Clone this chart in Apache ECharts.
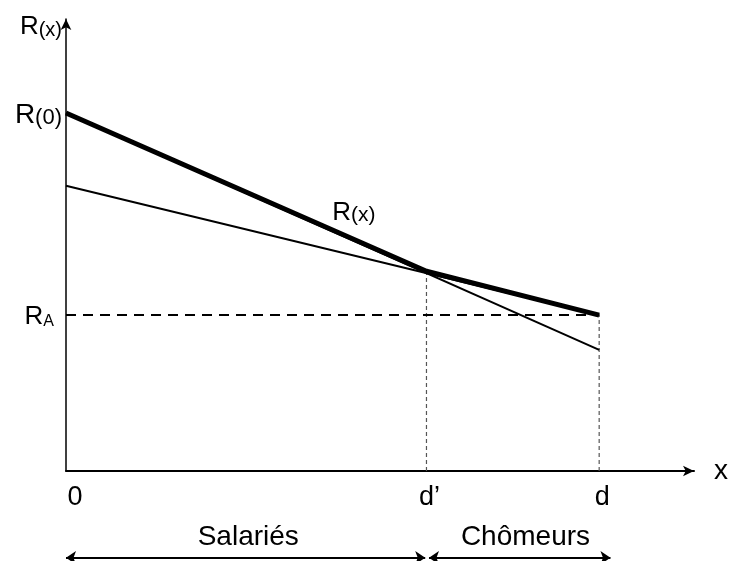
<!DOCTYPE html>
<html>
<head>
<meta charset="utf-8">
<script src="https://cdn.jsdelivr.net/npm/echarts@6/dist/echarts.min.js"></script>
<style>html,body{margin:0;padding:0;background:#fff}#c{width:731px;height:561px}</style>
</head>
<body>
<div id="c"></div>
<script>
// Key x positions (data units, axis 0..100)
const xZero = 0;
const xDPrime = 57.4;
const xD = 84.9;
// Values (y units, axis 0..100)
const thickR = [[xZero, 79.2], [xDPrime, 44.2], [xD, 34.5]];      // R(x) envelope
const steepLine = [[xZero, 79.2], [xD, 26.8]];                    // thin steep line
const shallowLine = [[xZero, 63.1], [xD, 34.5]];                  // thin shallow line
const RA = 34.5;
const R0 = 79.2;
const crossY = 44.2;
const xTickLabels = { 0: '0', 57.4: 'd’', 84.9: 'd' };
const groupLabels = ['Salariés', 'Chômeurs'];
const bracketY = -19.2;
const groupLabelY = -14.6;
const chomeursEnd = 86.7;

const chart = echarts.init(document.getElementById('c'));
const FONT = 'Liberation Sans';
chart.setOption({
  animation: false,
  backgroundColor: '#fff',
  textStyle: { fontFamily: FONT, color: '#000' },
  grid: { left: 66, right: 34, top: 19, bottom: 90 },
  xAxis: {
    type: 'value', min: 0, max: 100,
    splitLine: { show: false },
    axisTick: { show: false },
    axisLine: { lineStyle: { color: '#000', width: 2 }, symbol: ['none', 'arrow'], symbolSize: [8, 11] },
    axisLabel: {
      customValues: [xZero, xDPrime, xD],
      margin: 13,
      formatter: v => v === 0 ? '{z|0}' : '{t|' + xTickLabels[v] + '}',
      rich: {
        z: { fontSize: 27, fontFamily: FONT, color: '#000', padding: [0, 0, 0, 18] },
        t: { fontSize: 27, fontFamily: FONT, color: '#000', padding: [0, 0, 0, 6] }
      }
    },
    name: 'x', nameLocation: 'end', nameGap: 20,
    nameTextStyle: { fontSize: 28, fontFamily: FONT, color: '#000', verticalAlign: 'middle', padding: [0, 0, 4, 0] }
  },
  yAxis: {
    type: 'value', min: 0, max: 100,
    splitLine: { show: false },
    axisTick: { show: false },
    axisLine: { lineStyle: { color: '#000', width: 1.5 }, symbol: ['none', 'arrow'], symbolSize: [8, 11] },
    axisLabel: {
      customValues: [RA, R0],
      margin: 4,
      formatter: v => v === R0 ? '{R|R}{s|(0)}' : '{r|R}{a|A}{p|}',
      rich: {
        R: { fontSize: 28, fontFamily: FONT, color: '#000', verticalAlign: 'bottom', lineHeight: 32 },
        r: { fontSize: 26, fontFamily: FONT, color: '#000', verticalAlign: 'bottom', lineHeight: 30 },
        s: { fontSize: 22, fontFamily: FONT, color: '#000', verticalAlign: 'bottom', lineHeight: 29 },
        a: { fontSize: 16, fontFamily: FONT, color: '#000', verticalAlign: 'bottom', lineHeight: 24 },
        p: { width: 8 }
      }
    },
    name: '{r|R}{s|(x)}', nameLocation: 'end', nameGap: -6,
    nameTextStyle: {
      align: 'right', verticalAlign: 'middle', padding: [0, 4, 0, 0],
      rich: {
        r: { fontSize: 26, fontFamily: FONT, color: '#000', verticalAlign: 'bottom', lineHeight: 30 },
        s: { fontSize: 20, fontFamily: FONT, color: '#000', verticalAlign: 'bottom', lineHeight: 27 }
      }
    }
  },
  series: [
    { type: 'line', data: steepLine, symbol: 'none', lineStyle: { color: '#000', width: 2 }, z: 3 },
    { type: 'line', data: shallowLine, symbol: 'none', lineStyle: { color: '#000', width: 2 }, z: 3 },
    { type: 'line', data: thickR, symbol: 'none', lineStyle: { color: '#000', width: 5 }, z: 4 },
    { type: 'line', data: [[xZero, RA], [xD, RA]], symbol: 'none', lineStyle: { color: '#000', width: 2, type: [10, 7] }, z: 2 },
    { type: 'line', data: [[xDPrime, 0], [xDPrime, crossY]], symbol: 'none', lineStyle: { color: '#555', width: 1.2, type: [4, 3] }, z: 1 },
    { type: 'line', data: [[xD, 0], [xD, RA]], symbol: 'none', lineStyle: { color: '#555', width: 1.2, type: [4, 3] }, z: 1 },
    {
      type: 'scatter', symbolSize: 0, clip: false, silent: true,
      itemStyle: { opacity: 1 },
      data: [[42.4, 57.5]],
      label: {
        show: true, position: 'right', distance: 0, opacity: 1,
        formatter: '{r|R}{s|(x)}',
        rich: {
          r: { fontSize: 26, fontFamily: FONT, color: '#000', verticalAlign: 'bottom', lineHeight: 30 },
          s: { fontSize: 21, fontFamily: FONT, color: '#000', verticalAlign: 'bottom', lineHeight: 27 }
        }
      }
    },
    {
      type: 'scatter', symbolSize: 0, clip: false, silent: true,
      itemStyle: { opacity: 1 },
      data: [
        { value: [(xZero + xDPrime) / 2, groupLabelY], name: groupLabels[0], label: { offset: [2, 0] } },
        { value: [(xDPrime + chomeursEnd) / 2, groupLabelY], name: groupLabels[1], label: { offset: [7, 0] } }
      ],
      label: {
        show: true, position: 'inside', formatter: p => p.name, opacity: 1,
        fontSize: 28, fontFamily: FONT, color: '#000'
      }
    },
    {
      type: 'lines', coordinateSystem: 'cartesian2d', clip: false, silent: true,
      symbol: ['arrow', 'arrow'], symbolSize: 10,
      lineStyle: { color: '#000', width: 2, opacity: 1 },
      data: [
        { coords: [[xZero, bracketY], [xDPrime - 0.2, bracketY]] },
        { coords: [[xDPrime + 0.4, bracketY], [chomeursEnd, bracketY]] }
      ]
    }
  ]
});
</script>
</body>
</html>
